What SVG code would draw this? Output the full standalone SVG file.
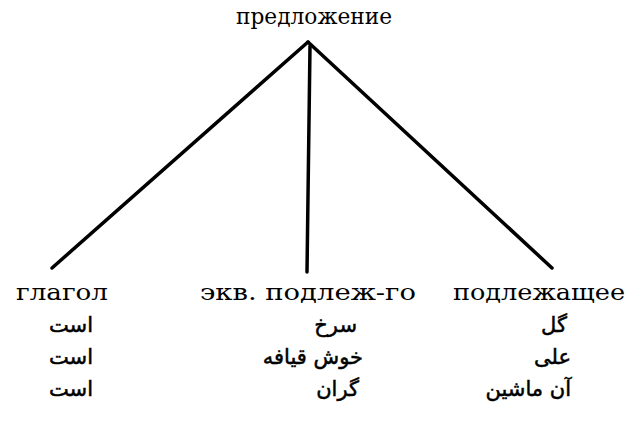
<svg xmlns="http://www.w3.org/2000/svg" width="636" height="423" viewBox="0 0 636 423">
<style>
.ru{font-family:"DejaVu Serif","Liberation Serif",serif;font-size:22px;fill:#000}
.fa{font-family:"DejaVu Sans",sans-serif;font-size:21px;fill:#000;stroke:#000;stroke-width:0.5;text-anchor:end}
.edge{stroke:#000;stroke-width:3.5;fill:none;stroke-linecap:round}
</style>
<rect width="636" height="423" fill="#fff"/>
<g id="connectors">
<line class="edge" x1="308" y1="42" x2="52" y2="268"/>
<line class="edge" x1="308" y1="42" x2="552" y2="268"/>
<line class="edge" x1="310" y1="46" x2="307" y2="272"/>
</g>
<g id="root"><text class="ru" x="236" y="24" textLength="156" lengthAdjust="spacingAndGlyphs">предложение</text></g>
<g id="verb">
<text class="ru" x="16" y="300" textLength="92" lengthAdjust="spacingAndGlyphs">глагол</text>
<text class="fa" x="93" y="332">است</text>
<text class="fa" x="93" y="364">است</text>
<text class="fa" x="93" y="396">است</text>
</g>
<g id="equiv">
<text class="ru" x="200" y="300" textLength="216" lengthAdjust="spacingAndGlyphs">экв. подлеж-го</text>
<text class="fa" x="357" y="332">سرخ</text>
<text class="fa" x="363" y="364">خوش  قیافه</text>
<text class="fa" x="359" y="396">گران</text>
</g>
<g id="subject">
<text class="ru" x="453" y="300" textLength="172" lengthAdjust="spacingAndGlyphs">подлежащее</text>
<text class="fa" x="567" y="332">گل</text>
<text class="fa" x="571" y="364">علی</text>
<text class="fa" x="571" y="396">آن  ماشین</text>
</g>
</svg>
